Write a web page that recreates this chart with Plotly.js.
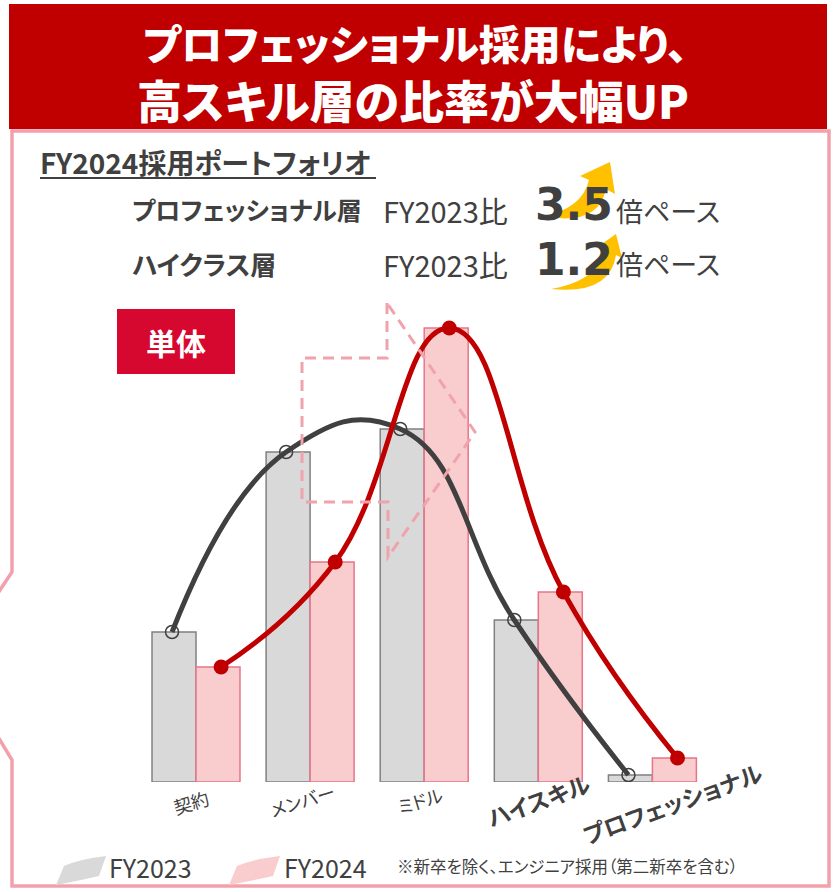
<!DOCTYPE html>
<html><head><meta charset="utf-8">
<script src="https://cdn.plot.ly/plotly-3.0.1.min.js"></script>
<style>
html,body{margin:0;padding:0;background:#fff;}
text{font-feature-settings:"palt" 1;}
</style>
</head><body>
<div id="chart" style="width:833px;height:892px;"></div>
<script>
// ---- data ----
const categories = ['契約','メンバー','ミドル','ハイスキル','プロフェッショナル'];
const seriesNames = ['FY2023','FY2024'];
const fy2023 = [150, 330, 353, 162, 7];
const fy2024 = [115, 220, 454, 190, 24];
const boldCats = [false, false, false, true, true];

// ---- helpers ----
const W = 833, H = 892;
const X = p => p / W, Y = p => 1 - p / H;
const P = s => s.replace(/(-?\d+\.?\d*),(-?\d+\.?\d*)/g, (m, a, b) => (a / W).toFixed(5) + ',' + (1 - b / H).toFixed(5));
const FONT = '"Noto Sans CJK JP", "Noto Sans", sans-serif';
const DIGIT_FONT = '"DejaVu Sans", sans-serif';
const DARK = '#404040';
function T(text, x, y, size, o) {
  o = o || {};
  return Object.assign({
    text: text, xref: 'paper', yref: 'paper', x: X(x), y: Y(y),
    xanchor: 'left', yanchor: 'middle', showarrow: false,
    font: {family: o.family || FONT, size: size, color: o.color || DARK, weight: o.weight || 400}
  }, o.extra || {});
}

const idx = categories.map((_, i) => i);

const traces = [
  {type: 'bar', name: seriesNames[0], x: idx, y: fy2023,
   marker: {color: '#D9D9D9', line: {color: '#808080', width: 1.5}}, hoverinfo: 'skip'},
  {type: 'bar', name: seriesNames[1], x: idx, y: fy2024,
   marker: {color: '#F9CCCD', line: {color: '#E8748A', width: 1.5}}, hoverinfo: 'skip'},
  {type: 'scatter', mode: 'lines+markers', name: seriesNames[0] + ' line',
   x: idx.map(i => i - 0.21), y: fy2023,
   line: {color: '#404040', width: 5, shape: 'spline', smoothing: 1.3},
   marker: {symbol: 'circle-open', size: 13, color: '#404040', line: {width: 1.5, color: '#404040'}},
   hoverinfo: 'skip'},
  {type: 'scatter', mode: 'lines+markers', name: seriesNames[1] + ' line',
   x: idx.map(i => i + 0.22), y: fy2024,
   line: {color: '#C00000', width: 5, shape: 'spline', smoothing: 1.3},
   marker: {symbol: 'circle', size: 15, color: '#C00000'},
   hoverinfo: 'skip'}
];

const shapes = [
  // header
  {type: 'rect', xref: 'paper', yref: 'paper', x0: X(9), x1: X(827), y0: Y(4), y1: Y(129),
   fillcolor: '#C00000', line: {width: 0}, layer: 'below'},
  // pink frame with notch
  {type: 'path', xref: 'paper', yref: 'paper', layer: 'below',
   path: P('M 12,131 L 829,131 L 829,886 L 12,886 L 12,760 L -20,707 L -20,620 L 12,572 Z'),
   line: {color: '#F2A0AC', width: 3.5}, fillcolor: 'rgba(0,0,0,0)'},
  // underline for heading
  {type: 'line', xref: 'paper', yref: 'paper', x0: X(40), x1: X(376), y0: Y(178), y1: Y(178),
   line: {color: DARK, width: 2}},
  // yellow arrows
  {type: 'path', xref: 'paper', yref: 'paper', layer: 'below',
   path: P('M 543,216 Q 582,209 589,180 L 580,176 L 610,162 L 615,194 L 606,189 Q 598,227 543,216 Z'),
   fillcolor: '#FFC000', line: {width: 0}},
  {type: 'path', xref: 'paper', yref: 'paper', layer: 'below',
   path: P('M 551,289 Q 598,281 605,249 L 599,246 L 616,234 L 622,258 L 616,255 Q 610,295 551,289 Z'),
   fillcolor: '#FFC000', line: {width: 0}},
  // 単体 box
  {type: 'rect', xref: 'paper', yref: 'paper', x0: X(117), x1: X(235), y0: Y(309), y1: Y(374),
   fillcolor: '#D7082F', line: {width: 0}, layer: 'below'},
  // dashed callout arrow
  {type: 'path', xref: 'paper', yref: 'paper', layer: 'above',
   path: P('M 387,303 L 387,358 L 302,358 L 302,502 L 388,502 L 388,557 L 475,432 Z'),
   line: {color: '#F0A2AD', width: 3, dash: '11px,7px'}, fillcolor: 'rgba(0,0,0,0)'},
  // legend blobs
  {type: 'path', xref: 'paper', yref: 'paper', layer: 'below',
   path: P('M 56,885 L 64,866 Q 80,859 106,856 L 99,876 Q 82,880 56,885 Z'),
   fillcolor: '#D9D9D9', line: {width: 0}},
  {type: 'path', xref: 'paper', yref: 'paper', layer: 'below',
   path: P('M 229,885 L 237,866 Q 253,859 280,856 L 273,876 Q 255,880 229,885 Z'),
   fillcolor: '#F9CCCD', line: {width: 0}}
];

const annotations = [
  T('プロフェッショナル採用により、', 415, 42, 41, {color: '#fff', weight: 900, extra: {xanchor: 'center'}}),
  T('高スキル層の比率が大幅UP', 413, 99, 45, {color: '#fff', weight: 900, extra: {xanchor: 'center'}}),
  T('FY2024採用ポートフォリオ', 38, 162, 28, {weight: 700}),
  T('プロフェッショナル層', 130, 209, 25, {weight: 700}),
  T('ハイクラス層', 130, 263, 26, {weight: 700}),
  T('FY2023比', 381, 210, 29),
  T('FY2023比', 381, 264, 29),
  T('3.5', 533, 204, 44, {weight: 700, family: DIGIT_FONT}),
  T('1.2', 533, 259, 44, {weight: 700, family: DIGIT_FONT}),
  T('倍ペース', 614, 210, 27),
  T('倍ペース', 614, 264, 27),
  T('単体', 176, 342, 30, {color: '#fff', weight: 700, extra: {xanchor: 'center'}}),
  T(seriesNames[0], 107, 867, 25),
  T(seriesNames[1], 282, 867, 25),
  T('※新卒を除く、エンジニア採用（第二新卒を含む）', 395, 866, 16.5)
];
const labelShift = [-5, -8, -4, 0, 20];
const labelY = [802, 800, 800, 800, 803];
categories.forEach((c, i) => {
  const b = boldCats[i];
  annotations.push({
    text: c, xref: 'x', yref: 'paper', x: i, y: Y(labelY[i]), xshift: labelShift[i],
    xanchor: 'center', yanchor: 'middle', showarrow: false,
    textangle: b ? -20 : -17,
    font: {family: FONT, size: b ? 23 : 18, color: DARK, weight: b ? 700 : 400}
  });
});

const layout = {
  width: W, height: H, margin: {l: 0, r: 0, t: 0, b: 0},
  paper_bgcolor: '#fff', plot_bgcolor: 'rgba(0,0,0,0)',
  showlegend: false, barmode: 'group', bargap: 0.229, bargroupgap: 0,
  xaxis: {domain: [138.95 / W, 709.45 / W], range: [-0.5, 4.5], visible: false, fixedrange: true},
  yaxis: {domain: [Y(782), Y(282)], range: [0, 500], visible: false, fixedrange: true},
  shapes: shapes, annotations: annotations
};

Plotly.newPlot('chart', traces, layout, {staticPlot: true, displayModeBar: false});
</script>
</body></html>
